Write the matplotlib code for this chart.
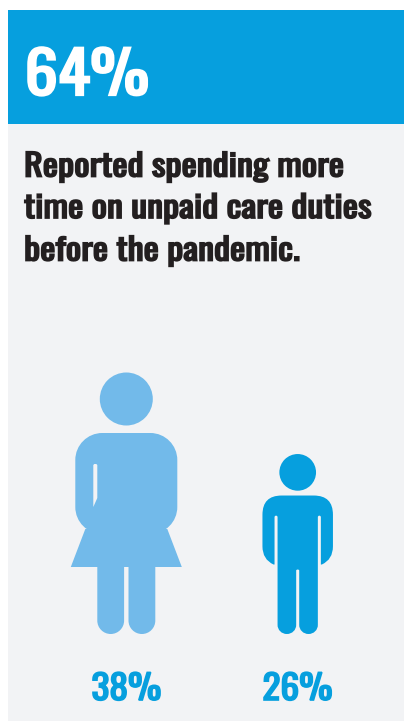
import matplotlib
matplotlib.use("Agg")
import matplotlib.pyplot as plt
import matplotlib.patheffects as pe
from matplotlib.patches import Circle, PathPatch, Polygon, Rectangle
from matplotlib.path import Path
from matplotlib.transforms import Affine2D

headline_value = "64%"
title_lines = ["Reported spending more", "time on unpaid care duties", "before the pandemic."]
shares = [38, 26]
share_labels = ["38%", "26%"]

blue = "#069FDE"
light_blue = "#72BAEA"
panel = "#F2F3F5"
dark = "#231F20"
cond = ["Oswald", "Liberation Sans", "DejaVu Sans"]

px_per_pct = 262 / 38
K = 0.5523


class Heavy(pe.AbstractPathEffect):
    # Oswald only loads at regular weight here: widen and stroke it to look bold
    def __init__(self, sx, lw):
        super().__init__()
        self.sx = sx
        self.lw = lw

    def draw_path(self, renderer, gc, tpath, affine, rgbFace=None):
        g = renderer.new_gc()
        g.copy_properties(gc)
        g.set_linewidth(self.lw)
        g.set_foreground(rgbFace)
        g.set_joinstyle("miter")
        renderer.draw_path(g, tpath, Affine2D().scale(self.sx, 1) + affine, rgbFace)
        g.restore()


def rounded(ax, x0, y0, x1, y1, r, color, z=2):
    # x/y in data, y0 is top and y1 bottom (y axis runs downward)
    c = r * (1 - K)
    v = [(x0 + r, y0), (x1 - r, y0), (x1 - c, y0), (x1, y0 + c), (x1, y0 + r),
         (x1, y1 - r), (x1, y1 - c), (x1 - c, y1), (x1 - r, y1),
         (x0 + r, y1), (x0 + c, y1), (x0, y1 - c), (x0, y1 - r),
         (x0, y0 + r), (x0, y0 + c), (x0 + c, y0), (x0 + r, y0), (x0 + r, y0)]
    codes = [Path.MOVETO, Path.LINETO, Path.CURVE4, Path.CURVE4, Path.CURVE4,
             Path.LINETO, Path.CURVE4, Path.CURVE4, Path.CURVE4,
             Path.LINETO, Path.CURVE4, Path.CURVE4, Path.CURVE4,
             Path.LINETO, Path.CURVE4, Path.CURVE4, Path.CURVE4, Path.CLOSEPOLY]
    ax.add_patch(PathPatch(Path(v, codes), fc=color, ec="none", zorder=z))


def woman(ax, cx, base, h, color):
    s = h / 262
    X = lambda v: cx + v * s
    Y = lambda v: base - v * s
    ax.add_patch(Circle((X(0), Y(235)), 26.5 * s, fc=color, ec="none"))
    rounded(ax, X(-51), Y(201), X(51), Y(100), 27 * s, color)
    ax.add_patch(Polygon([(X(-41), Y(105)), (X(41), Y(105)), (X(55.5), Y(67)), (X(-55.5), Y(67))], fc=color, ec="none"))
    rounded(ax, X(-29), Y(85), X(-2.2), Y(0), 13.4 * s, color)
    rounded(ax, X(2.2), Y(85), X(29), Y(0), 13.4 * s, color)
    # slit between arm and body
    ax.add_patch(Polygon([(X(-33), Y(169)), (X(-32), Y(170)), (X(-30), Y(170)), (X(-29), Y(169)), (X(-29), Y(136)), (X(-33), Y(127))],
                         fc=panel, ec="none", zorder=3))


def child(ax, cx, base, h, color):
    s = h / 178
    P = lambda x, y: (cx + x * s, base - y * s)
    ax.add_patch(Circle(P(0, 160.5), 18.2 * s, fc=color, ec="none"))
    # one half of the outline, from top centre down to the crotch
    half = [((-16, 137.5), Path.LINETO),
            ((-35, 137.5), Path.CURVE3), ((-35, 118.5), Path.CURVE3),
            ((-35, 87), Path.LINETO),
            ((-35, 74), Path.CURVE3), ((-24, 69), Path.CURVE3),
            ((-23, 69), Path.LINETO), ((-23, 116), Path.LINETO),
            ((-23, 117.5), Path.CURVE3), ((-21.5, 117.5), Path.CURVE3),
            ((-20, 117.5), Path.CURVE3), ((-20, 116), Path.CURVE3),
            ((-20, 9), Path.LINETO),
            ((-20, 4), Path.CURVE4), ((-16, 0), Path.CURVE4), ((-10.75, 0), Path.CURVE4),
            ((-5.5, 0), Path.CURVE4), ((-1.5, 4), Path.CURVE4), ((-1.5, 9), Path.CURVE4),
            ((-1.5, 63), Path.LINETO),
            ((-1.5, 64), Path.CURVE3), ((0, 64), Path.CURVE3)]
    verts = [P(0, 137.5)] + [P(*p) for p, _ in half]
    codes = [Path.MOVETO] + [c for _, c in half]
    # mirrored half, walked backwards
    pts = [(0, 137.5)] + [p for p, _ in half]
    cds = [Path.MOVETO] + [c for _, c in half]
    for i in range(len(pts) - 1, 0, -1):
        x, y = pts[i - 1]
        verts.append(P(-x, y))
        codes.append(cds[i])
    ax.add_patch(PathPatch(Path(verts, codes), fc=color, ec="none", zorder=2))


fig = plt.figure(figsize=(4.04, 7.21), dpi=100)
ax = fig.add_axes([0, 0, 1, 1])
ax.set_xlim(0, 404)
ax.set_ylim(721, 0)
ax.axis("off")

ax.add_patch(Rectangle((8, 10), 396, 711, fc=panel, ec="none", zorder=0))
ax.add_patch(Rectangle((8, 10), 396, 114, fc=blue, ec="none", zorder=1))

ax.text(24.5, 95, headline_value, color="white", fontsize=42, family=cond, va="baseline",
        path_effects=[Heavy(1.14, 1.6)])

for line, y in zip(title_lines, [176.5, 218, 260.5]):
    ax.text(24, y, line, color=dark, fontsize=22, family=cond, va="baseline",
            path_effects=[Heavy(1.185, 1.25)])

base = 634
woman(ax, 126.3, base, shares[0] * px_per_pct, light_blue)
child(ax, 297.7, base, shares[1] * px_per_pct, blue)

for x, lab in zip([91.5, 262.5], share_labels):
    ax.text(x, 700, lab, color=blue, fontsize=24.5, family=cond, va="baseline",
            path_effects=[Heavy(1.1, 1.2)])

fig.savefig("out.png", dpi=100)
